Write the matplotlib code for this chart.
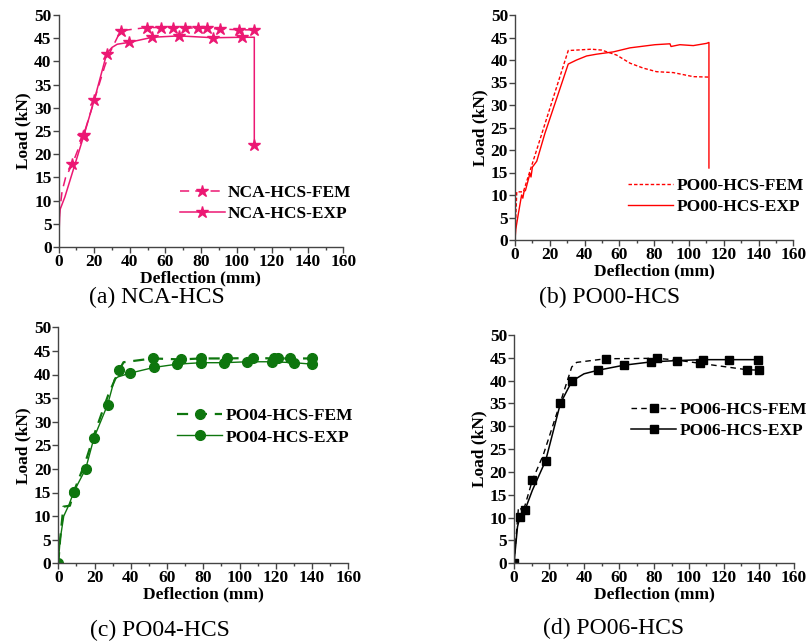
import numpy as np
import matplotlib
matplotlib.use('Agg')
import matplotlib.pyplot as plt
from matplotlib.ticker import MultipleLocator

plt.rcParams['font.family'] = 'Liberation Serif'
plt.rcParams['font.weight'] = 'bold'

# (a) NCA-HCS
nca_fem_x = [0, 0.5, 2, 4, 7.8, 14, 20, 26, 29, 34.9, 49.5, 57.6, 64.5, 71, 78.2, 83.6, 90.7, 101.6, 110]
nca_fem_y = [0, 7, 12, 15, 17.9, 24, 31.5, 39, 42, 46.6, 47.3, 47.3, 47.3, 47.2, 47.2, 47.1, 47.0, 46.8, 46.8]
nca_fem_mk = [4, 5, 9, 10, 11, 12, 13, 14, 15, 16, 17, 18]
nca_exp_x = [0, 0.8, 3.6, 14.3, 20.1, 27.1, 30, 33, 39.6, 52.7, 67.7, 87, 102.9, 110, 110]
nca_exp_y = [0, 8, 10.8, 24.1, 31.7, 41.7, 43, 43.7, 44.1, 45.2, 45.5, 45.1, 45.2, 45.2, 22]
nca_exp_mk = [3, 4, 5, 8, 9, 10, 11, 12, 14]

# (b) PO00-HCS
po00_fem_x = [0, 1, 4.8, 30.6, 44, 49.8, 58.4, 66.1, 73.7, 81.4, 91, 102.5, 111.7]
po00_fem_y = [0, 10.7, 10.7, 42.1, 42.4, 42.2, 41.1, 39.3, 38.2, 37.4, 37.2, 36.3, 36.2]
po00_exp_x = [0, 0.5, 2.0, 3.8, 4.5, 5.2, 6.0, 8.6, 9.2, 10.0, 12.5, 17.2, 24, 30.6, 35.4, 41.2, 47,
              56.5, 66.1, 80.5, 89.1, 89.7, 94.8, 102.5, 110.2, 111.5, 111.5]
po00_exp_y = [0, 2.5, 6, 10, 9.3, 10.8, 11, 14.8, 14.0, 16.2, 17.5, 23.7, 31.5, 39.1, 40, 40.9, 41.3,
              41.8, 42.7, 43.4, 43.6, 43.0, 43.4, 43.2, 43.7, 43.9, 16]

# (c) PO04-HCS
po04_fem_x = [0, 1, 2.8, 6.4, 8.6, 15, 20, 27.5, 33.5, 36, 52, 67.5, 79, 92.9, 107.6, 119.2, 121.4, 127.8, 139.8]
po04_fem_y = [0, 5, 12, 12.2, 15.2, 21.5, 27.5, 35.6, 40.9, 42.6, 43.4, 43.2, 43.4, 43.4, 43.5, 43.4, 43.4, 43.4, 43.4]
po04_fem_mk = [4, 8, 10, 11, 12, 13, 14, 15, 16, 17, 18]
po04_exp_x = [0, 1, 3, 6, 8.6, 15.1, 19.7, 27.2, 31, 33, 39.7, 52.8, 65.7, 79, 91.6, 104.3, 117.7, 130, 139.8]
po04_exp_y = [0, 5, 10, 12.5, 15.2, 20, 26.6, 33.6, 39, 39.5, 40.3, 41.5, 42.2, 42.5, 42.5, 42.7, 42.7, 42.5, 42.2]
po04_exp_mk = [0, 4, 5, 6, 7, 10, 11, 12, 13, 14, 15, 16, 17, 18]

# (d) PO06-HCS
po06_fem_x = [0, 2.5, 3.5, 5, 10.5, 16.7, 26.3, 33, 35.8, 52.4, 81.9, 93, 106.3, 133, 140]
po06_fem_y = [0, 12, 12.3, 11, 18.2, 23.7, 35, 43, 44, 44.8, 44.9, 44.5, 43.8, 42.4, 42.3]
po06_fem_mk = [4, 9, 10, 12, 13, 14]
po06_exp_x = [0, 2, 3.4, 5, 6.3, 10.5, 18.1, 26.5, 33.1, 40, 48.2, 63, 78.1, 93, 107.8, 122.9, 139.6]
po06_exp_y = [0, 8, 10.2, 10.5, 11.7, 16, 22.5, 35, 39.9, 41.5, 42.3, 43.4, 44.1, 44.4, 44.6, 44.6, 44.6]
po06_exp_mk = [0, 2, 4, 6, 7, 8, 10, 11, 12, 13, 14, 15, 16]

fig = plt.figure(figsize=(8.07, 6.42), dpi=100)
W, H = 807, 642


def eixo(l, t, r, b):
    return fig.add_axes([l / W, 1 - b / H, (r - l) / W, (b - t) / H])


def estilo(ax):
    ax.set_xlim(0, 160)
    ax.set_ylim(0, 50)
    ax.xaxis.set_major_locator(MultipleLocator(20))
    ax.xaxis.set_minor_locator(MultipleLocator(10))
    ax.yaxis.set_major_locator(MultipleLocator(5))
    ax.spines['top'].set_visible(False)
    ax.spines['right'].set_visible(False)
    for s in ['left', 'bottom']:
        ax.spines[s].set_color('#444444')
        ax.spines[s].set_linewidth(1.0)
    ax.tick_params(which='major', direction='out', length=4, width=1, color='#444444',
                   labelsize=12.5, pad=1)
    ax.tick_params(which='minor', direction='out', length=2.5, width=1, color='#444444')
    ax.set_xlabel('Deflection (mm)', fontsize=12.5, fontweight='bold', labelpad=0)
    ax.set_ylabel('Load (kN)', fontsize=12.5, fontweight='bold', labelpad=2)


def legenda(ax, x, y):
    ax.legend(loc='upper left', bbox_to_anchor=(x, y), frameon=False,
              handlelength=2.6, handletextpad=0.2, borderpad=0, borderaxespad=0,
              labelspacing=0.3, prop={'weight': 'bold', 'size': 12.5})


# (a)
ax1 = eixo(58.5, 15, 343.3, 247)
cor_a = '#EC1873'
ax1.plot(nca_fem_x, nca_fem_y, color=cor_a, lw=1.1, dashes=(6, 4), marker='*', ms=9,
         markevery=nca_fem_mk, label='NCA-HCS-FEM')
ax1.plot(nca_exp_x, nca_exp_y, color=cor_a, lw=1.1, marker='*', ms=9,
         markevery=nca_exp_mk, label='NCA-HCS-EXP')
estilo(ax1)
legenda(ax1, 0.425, 0.268)

# (b)
ax2 = eixo(515, 15, 793.3, 240)
ax2.plot(po00_fem_x, po00_fem_y, color='#FF0000', lw=1.0, dashes=(2.5, 1.5), label='PO00-HCS-FEM')
ax2.plot(po00_exp_x, po00_exp_y, color='#FF0000', lw=1.0, label='PO00-HCS-EXP')
estilo(ax2)
legenda(ax2, 0.405, 0.277)

# (c)
ax3 = eixo(58.3, 327.3, 348.3, 563.3)
cor_c = '#0E760E'
ax3.plot(po04_fem_x, po04_fem_y, color=cor_c, lw=1.6, dashes=(5, 3.5), marker='o', ms=7,
         markevery=po04_fem_mk, label='PO04-HCS-FEM')
ax3.plot(po04_exp_x, po04_exp_y, color=cor_c, lw=1.0, marker='o', ms=7,
         markevery=po04_exp_mk, label='PO04-HCS-EXP')
estilo(ax3)
legenda(ax3, 0.41, 0.658)

# (d)
ax4 = eixo(514, 335, 794, 563.3)
ax4.plot(po06_fem_x, po06_fem_y, color='black', lw=1.0, dashes=(4, 3), marker='s', ms=6,
         markevery=po06_fem_mk, label='PO06-HCS-FEM')
ax4.plot(po06_exp_x, po06_exp_y, color='black', lw=1.1, marker='s', ms=6,
         markevery=po06_exp_mk, label='PO06-HCS-EXP')
estilo(ax4)
legenda(ax4, 0.418, 0.708)

# legendas das subfiguras
for txt, x, y in [('(a) NCA-HCS', 157, 297), ('(b) PO00-HCS', 610, 297),
                  ('(c) PO04-HCS', 160, 630), ('(d) PO06-HCS', 614, 628)]:
    fig.text(x / W, 1 - y / H, txt, ha='center', va='center', fontsize=17, fontweight='normal')

plt.savefig('out.png', dpi=100)
